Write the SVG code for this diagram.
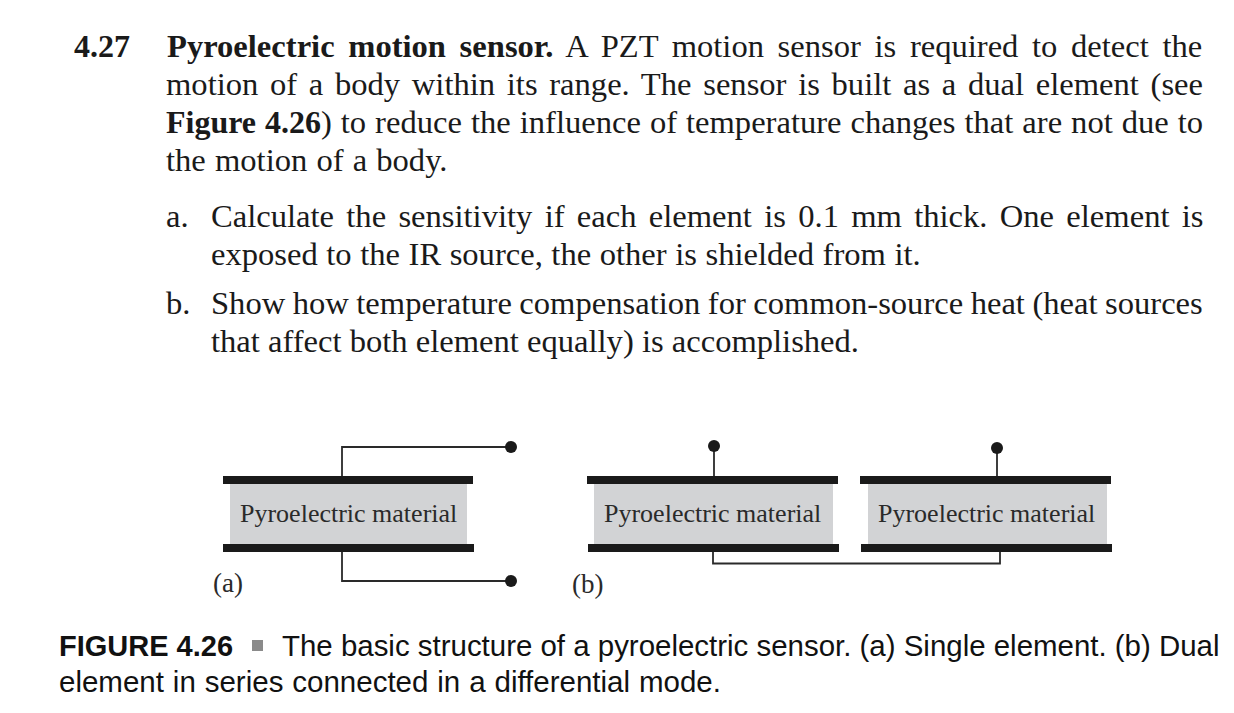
<svg xmlns="http://www.w3.org/2000/svg" width="1234" height="713" viewBox="0 0 1234 713">
<style>
.t{font-family:"Liberation Serif",serif;font-size:32.6px;fill:#1a1a1a}
.b{font-weight:bold}
.l{font-family:"Liberation Serif",serif;font-size:26px;fill:#2a2a2a}
.c{font-family:"Liberation Sans",sans-serif;font-size:29.5px;fill:#111}
.m{fill:#d2d3d5}
.e{fill:#1a1a1a}
.w{fill:none;stroke:#2a2a2a;stroke-width:1.8}
</style>
<rect width="1234" height="713" fill="#fff"/>
<g id="problem-text">
<text class="t b" x="74" y="57" style="font-size:32px">4.27</text>
<text class="t" x="167" y="57" word-spacing="5.5"><tspan class="b">Pyroelectric motion sensor.</tspan> A PZT motion sensor is required to detect the</text>
<text class="t" x="166" y="95" word-spacing="3.55">motion of a body within its range. The sensor is built as a dual element (see</text>
<text class="t" x="166" y="133" word-spacing="0.85"><tspan class="b" style="font-size:32px">Figure 4.26</tspan>) to reduce the influence of temperature changes that are not due to</text>
<text class="t" x="166" y="171" word-spacing="1">the motion of a body.</text>
<text class="t" x="166" y="227">a.</text>
<text class="t" x="211" y="227" word-spacing="4.15">Calculate the sensitivity if each element is 0.1 mm thick. One element is</text>
<text class="t" x="211" y="265" word-spacing="0.4">exposed to the IR source, the other is shielded from it.</text>
<text class="t" x="166" y="314">b.</text>
<text class="t" x="211" y="314" word-spacing="-0.65">Show how temperature compensation for common-source heat (heat sources</text>
<text class="t" x="211" y="352">that affect both element equally) is accomplished.</text>
</g>
<g id="connectors">
<path class="w" d="M342 477V447H511"/>
<path class="w" d="M342 550V581H511"/>
<path class="w" d="M714 477V447"/>
<path class="w" d="M997 477V447"/>
<path class="w" d="M713 550V563.500H1000V550"/>
</g>
<g id="node-a">
<rect class="m" x="230" y="484" width="237" height="61"/>
<rect class="e" x="223" y="476" width="250" height="8"/>
<rect class="e" x="223" y="544" width="251" height="8"/>
<text class="l" x="240" y="522">Pyroelectric material</text>
<circle class="e" cx="511" cy="447" r="6"/>
<circle class="e" cx="511" cy="581" r="6"/>
<text class="l" x="213" y="592" style="font-size:27px">(a)</text>
</g>
<g id="node-b1">
<rect class="m" x="594" y="484" width="239" height="60"/>
<rect class="e" x="587" y="476" width="251" height="8"/>
<rect class="e" x="588" y="544" width="251" height="8"/>
<text class="l" x="604" y="522">Pyroelectric material</text>
<circle class="e" cx="714" cy="446" r="6"/>
<text class="l" x="572" y="593" style="font-size:27px">(b)</text>
</g>
<g id="node-b2">
<rect class="m" x="868" y="484" width="239" height="60"/>
<rect class="e" x="860" y="476" width="251" height="8"/>
<rect class="e" x="861" y="544" width="251" height="8"/>
<text class="l" x="878" y="522">Pyroelectric material</text>
<circle class="e" cx="997" cy="448" r="6"/>
</g>
<g id="caption">
<text class="c" x="59" y="656" style="font-size:29px;font-weight:bold">FIGURE 4.26</text>
<rect x="252" y="640" width="11" height="11" fill="#8a8a8a"/>
<text class="c" x="282" y="656" style="font-size:29.45px">The basic structure of a pyroelectric sensor. (a) Single element. (b) Dual</text>
<text class="c" x="59" y="692" word-spacing="0.7">element in series connected in a differential mode.</text>
</g>
</svg>
